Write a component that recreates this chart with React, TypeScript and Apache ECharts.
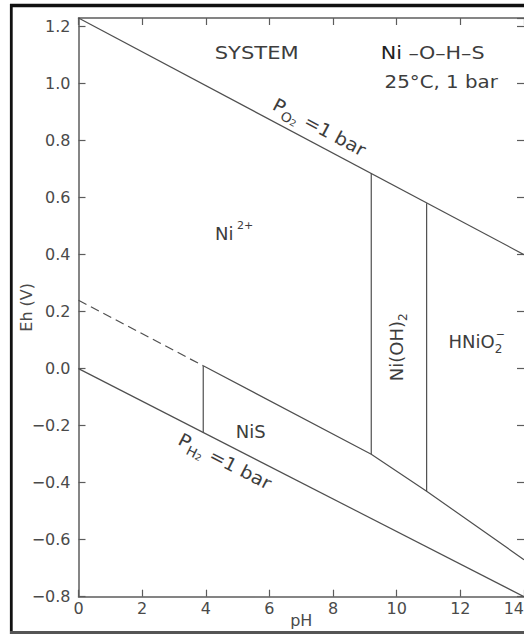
import React, { useEffect, useRef } from "react";
import * as echarts from "echarts";

// ---- axes ----
const PH_MIN = 0;
const PH_MAX = 14;
const PH_STEP = 2;
const EH_MIN = -0.8;
const EH_MAX = 1.23;
const EH_STEP = 0.2;

// ---- stability-field boundaries [pH, Eh] ----
const o2Boundary = [[0, 1.23], [14, 0.40]];
const h2Boundary = [[0, 0.0], [14, -0.80]];
const ni2NisDashed = [[0, 0.24], [3.92, 0.01]];
const nisUpperBoundary = [[3.92, 0.01], [9.2, -0.30], [10.94, -0.43], [14, -0.67]];
const ni2NisVertical = [[3.92, 0.01], [3.92, -0.224]];
const ni2NiOH2Vertical = [[9.2, 0.685], [9.2, -0.30]];
const niOH2HNiO2Vertical = [[10.94, 0.58], [10.94, -0.43]];

// ---- annotation anchors [pH, Eh] ----
const systemAt = [4.28, 1.107];
const systemNameAt = [9.5, 1.107];
const conditionsAt = [9.62, 1.009];
const ni2At = [4.29, 0.475];
const niOH2At = [9.99, 0.075];
const hnio2At = [11.63, 0.094];
const nisAt = [4.94, -0.219];
const po2At = [7.57, 0.847];
const ph2At = [4.6, -0.325];

const FONT = '"DejaVu Sans", "Liberation Sans", sans-serif';
const LINE = "#4f4f4f";
const AXIS = "#5c5c5c";
const TXT = "#3d3d3d";
const LBL = "#4a4a4a";

const fmtMinus = (v: number) => {
  const s = v.toFixed(1);
  return s.startsWith("-") ? "\u2212" + s.slice(1) : s;
};

export default function App() {
  const ref = useRef<HTMLDivElement>(null);

  useEffect(() => {
    const chart = echarts.init(ref.current!, null, { renderer: "svg" });

    const mkLine = (name: string, data: number[][], dashed = false) => ({
      name,
      type: "line",
      data,
      showSymbol: false,
      symbol: "none",
      silent: true,
      lineStyle: { color: LINE, width: 1.2, type: dashed ? [9, 5] : "solid" },
    });

    const axisLine = { show: true, onZero: false, lineStyle: { color: AXIS, width: 1.5 } };
    const axisTick = { show: true, inside: true, length: 7, lineStyle: { color: AXIS, width: 1.2 } };

    const xBase = {
      type: "value",
      min: PH_MIN,
      max: PH_MAX,
      interval: PH_STEP,
      splitLine: { show: false },
      axisLine,
      axisTick,
    };
    const yBase = {
      type: "value",
      min: EH_MIN,
      max: EH_MAX,
      interval: EH_STEP,
      splitLine: { show: false },
      axisLine,
      axisTick,
    };

    chart.setOption({
      animation: false,
      grid: {
        left: 78.5,
        top: 18,
        right: 0,
        bottom: 39.3,
        containLabel: false,
        outerBoundsMode: "none",
      },
      xAxis: [
        {
          ...xBase,
          position: "bottom",
          name: "pH",
          nameLocation: "middle",
          nameGap: 16,
          nameMoveOverlap: false,
          nameTextStyle: { fontFamily: FONT, fontSize: 16, color: LBL },
          axisLabel: {
            fontFamily: FONT,
            fontSize: 16,
            color: LBL,
            margin: 4,
            alignMaxLabel: "right",
          },
        },
        { ...xBase, position: "top", axisLabel: { show: false } },
      ],
      yAxis: [
        {
          ...yBase,
          position: "left",
          name: "Eh (V)",
          nameLocation: "middle",
          nameGap: 44,
          nameMoveOverlap: false,
          nameTextStyle: { fontFamily: FONT, fontSize: 16, color: LBL },
          axisLabel: {
            fontFamily: FONT,
            fontSize: 16,
            color: LBL,
            margin: 8,
            showMaxLabel: false,
            formatter: (v: number) => fmtMinus(v),
          },
        },
        {
          ...yBase,
          position: "right",
          axisLine: { ...axisLine, show: false },
          axisLabel: { show: false },
        },
      ],
      series: [
        mkLine("PO2 = 1 bar", o2Boundary),
        mkLine("PH2 = 1 bar", h2Boundary),
        mkLine("Ni2+/NiS (dashed)", ni2NisDashed, true),
        mkLine("NiS upper", nisUpperBoundary),
        mkLine("Ni2+/NiS", ni2NisVertical),
        mkLine("Ni2+/Ni(OH)2", ni2NiOH2Vertical),
        mkLine("Ni(OH)2/HNiO2-", niOH2HNiO2Vertical),
      ],
    });

    const toPx = (p: number[]) => chart.convertToPixel({ gridIndex: 0 }, p) as number[];
    const angleOf = (line: number[][]) => {
      const a = toPx(line[0]);
      const b = toPx(line[line.length - 1]);
      return -Math.atan2(b[1] - a[1], b[0] - a[0]);
    };

    const main = (size = 18) => ({ fontSize: size, fontFamily: FONT, fill: TXT, lineHeight: 26 });
    const sub = (size = 12, lh = 16) => ({ fontSize: size, fontFamily: FONT, fill: TXT, verticalAlign: "bottom", lineHeight: lh });
    const sup = (size = 11) => ({ fontSize: size, fontFamily: FONT, fill: TXT, verticalAlign: "top", lineHeight: 12 });

    const textAt = (p: number[], text: string, opts: any = {}) => {
      const [x, y] = toPx(p);
      return {
        type: "text",
        x,
        y,
        rotation: opts.rotation || 0,
        scaleX: opts.scaleX || 1,
        silent: true,
        style: {
          text,
          fill: TXT,
          font: `${opts.fontWeight || "normal"} ${opts.fontSize || 18}px ${FONT}`,
          align: opts.align || "left",
          verticalAlign: "middle",
          rich: opts.rich,
        },
      };
    };

    const o2Angle = angleOf(o2Boundary);
    const h2Angle = angleOf(h2Boundary);

    chart.setOption({
      graphic: [
        // page frame
        { type: "line", silent: true, shape: { x1: 10, y1: 5.5, x2: 524, y2: 5.5 }, style: { stroke: "#111", lineWidth: 3.5 } },
        { type: "line", silent: true, shape: { x1: 11.3, y1: 4, x2: 11.3, y2: 634 }, style: { stroke: "#111", lineWidth: 2.8 } },
        { type: "line", silent: true, shape: { x1: 10, y1: 632.5, x2: 524, y2: 632.5 }, style: { stroke: "#555", lineWidth: 3 } },

        textAt(systemAt, "SYSTEM", { scaleX: 1.17 }),
        textAt(systemNameAt, "{b|Ni}{n| \u2013O\u2013H\u2013S}", {
          scaleX: 1.15,
          rich: { b: { ...main(18), fill: "#222" }, n: main(18) },
        }),
        textAt(conditionsAt, "25\u00b0C, 1 bar", { scaleX: 1.1 }),
        textAt(ni2At, "{m|Ni}{s| 2+}", { rich: { m: main(18), s: sup(11) } }),
        textAt(niOH2At, "{m|Ni(OH)}{d|2}", {
          align: "center",
          rotation: Math.PI / 2,
          rich: { m: main(18), d: sub(12, 16) },
        }),
        textAt(hnio2At, "{m|HNiO}{d|2}{u|\u2212}", {
          rich: { m: main(18), d: { ...sub(12, 16), width: 1 }, u: sup(11) },
        }),
        textAt(nisAt, "NiS"),
        textAt(po2At, "{m|P}{o|O}{t|2}{m| =1 bar}", {
          align: "center",
          rotation: o2Angle,
          scaleX: 1.08,
          rich: { m: main(18), o: sub(13, 17), t: sub(9, 10) },
        }),
        textAt(ph2At, "{m|P}{o|H}{t|2}{m| =1 bar}", {
          align: "center",
          rotation: h2Angle,
          scaleX: 1.08,
          rich: { m: main(18), o: sub(13, 17), t: sub(9, 10) },
        }),
      ],
    });

    return () => chart.dispose();
  }, []);

  return (
    <div
      ref={ref}
      style={{ position: "fixed", left: 0, top: 0, width: 524, height: 636, background: "#fff" }}
    />
  );
}
